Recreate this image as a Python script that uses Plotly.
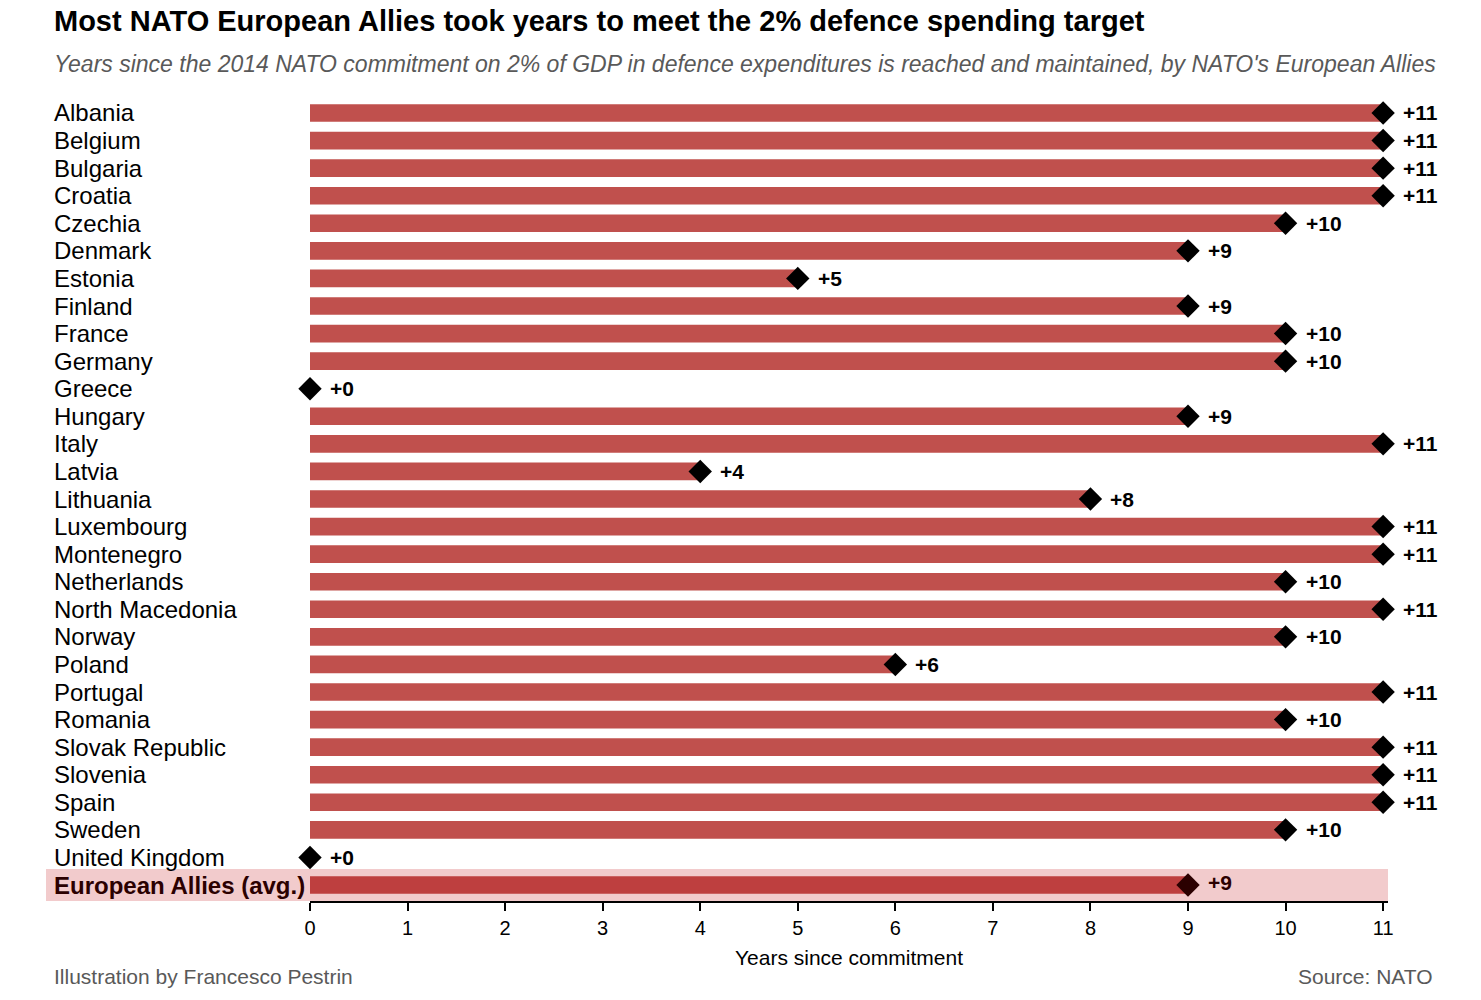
import plotly.graph_objects as go

countries = ["Albania", "Belgium", "Bulgaria", "Croatia", "Czechia", "Denmark", "Estonia",
             "Finland", "France", "Germany", "Greece", "Hungary", "Italy", "Latvia",
             "Lithuania", "Luxembourg", "Montenegro", "Netherlands", "North Macedonia",
             "Norway", "Poland", "Portugal", "Romania", "Slovak Republic", "Slovenia",
             "Spain", "Sweden", "United Kingdom"]
years = [11, 11, 11, 11, 10, 9, 5, 9, 10, 10, 0, 9, 11, 4, 8, 11, 11, 10, 11, 10, 6,
         11, 10, 11, 11, 11, 10, 0]
avg_label = "European Allies (avg.)"
avg_years = 9
x_ticks = list(range(0, 12))

labels = countries + [avg_label]
values = years + [avg_years]
pos = list(range(len(labels)))
n = len(labels)

bar_colors = ["#C0504D"] * len(countries) + ["#BE3F3F"]
marker_colors = ["#000000"] * len(countries) + ["#2B0000"]

fig = go.Figure()
fig.add_trace(go.Bar(
    x=values, y=pos, orientation="h", marker_color=bar_colors,
    marker_line_width=0, width=0.64, hoverinfo="skip",
))
fig.add_trace(go.Scatter(
    x=values, y=pos, mode="markers", cliponaxis=False,
    marker=dict(symbol="diamond", size=18, color=marker_colors,
                line=dict(width=0)),
    hoverinfo="skip",
))

font = "Liberation Sans, Arial, sans-serif"
# page pixel helpers (plot area spans 310..1388 horizontally, 97..901 vertically)
x0 = 310
plot_w = 1388 - 310
plot_h = 901 - 97


def px_x(p):
    return (p - x0) / plot_w


def px_y(p):
    return (901 - p) / plot_h


# highlight band behind the average row
fig.add_shape(type="rect", xref="paper", yref="y", layer="below",
              x0=px_x(46), x1=1.0, y0=n - 1 - 0.58, y1=n - 1 + 0.58,
              fillcolor="#F2CBCC", line_width=0)

for i, (lab, v) in enumerate(zip(labels, values)):
    is_avg = i == n - 1
    col = "#2B0000" if is_avg else "#000000"
    fig.add_annotation(
        x=px_x(54), xref="paper", y=i, yref="y",
        text="<b>" + lab + "</b>" if is_avg else lab,
        showarrow=False, xanchor="left", yanchor="middle", borderpad=0, borderwidth=0,
        font=dict(family=font, size=24, color=col),
    )
    fig.add_annotation(
        x=v, y=i, xref="x", yref="y", text="<b>+%d</b>" % v, showarrow=False,
        xanchor="left", yanchor="middle", xshift=18, yshift=3 if is_avg else 0,
        font=dict(family=font, size=21, color=col),
    )

fig.add_annotation(
    x=px_x(54), xref="paper", y=px_y(21), yref="paper",
    text="<b>Most NATO European Allies took years to meet the 2% defence spending target</b>",
    showarrow=False, xanchor="left", yanchor="middle", borderpad=0, borderwidth=0,
    font=dict(family=font, size=29, color="#000000"),
)
fig.add_annotation(
    x=px_x(54), xref="paper", y=px_y(64), yref="paper",
    text="<i>Years since the 2014 NATO commitment on 2% of GDP in defence expenditures is reached and maintained, by NATO's European Allies</i>",
    showarrow=False, xanchor="left", yanchor="middle", borderpad=0, borderwidth=0,
    font=dict(family=font, size=23, color="#595959"),
)
fig.add_annotation(
    x=px_x(54), xref="paper", y=px_y(976), yref="paper",
    text="Illustration by Francesco Pestrin", showarrow=False,
    xanchor="left", yanchor="middle", borderpad=0, borderwidth=0,
    font=dict(family=font, size=21, color="#595959"),
)
fig.add_annotation(
    x=px_x(1433), xref="paper", y=px_y(977), yref="paper",
    text="Source: NATO", showarrow=False, xanchor="right", yanchor="middle",
    borderpad=0, borderwidth=0,
    font=dict(family=font, size=21, color="#595959"),
)

fig.update_layout(
    width=1481, height=1000,
    margin=dict(l=302, r=101, t=89, b=107),
    plot_bgcolor="white", paper_bgcolor="white",
    showlegend=False, bargap=0.36,
    font=dict(family=font, size=20, color="#000000"),
    xaxis=dict(
        range=[0, 11.05], tickvals=x_ticks, showgrid=False, zeroline=False,
        showline=True, linecolor="#000000", linewidth=2,
        ticks="outside", ticklen=8, tickwidth=1.5, tickcolor="#000000",
        tickfont=dict(size=20, color="#000000"),
        title=dict(text="Years since commitment", font=dict(size=21, color="#000000"),
                   standoff=12),
    ),
    yaxis=dict(range=[n - 1 + 0.58, -0.58], showticklabels=False, showgrid=False,
               zeroline=False, showline=False),
)

fig.write_html("out.html")
